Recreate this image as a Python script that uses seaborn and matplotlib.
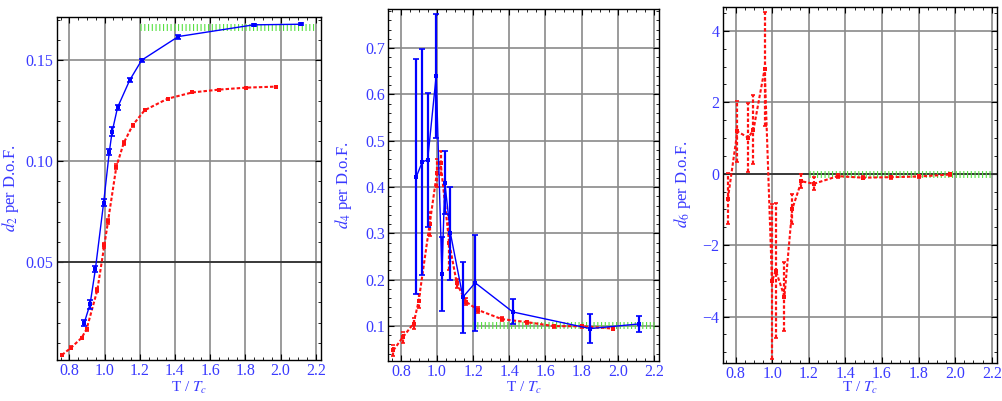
import numpy as np
import matplotlib
matplotlib.use("Agg")
import matplotlib.pyplot as plt
import seaborn as sns

# Data
t_blue = [0.885, 0.918, 0.948, 0.995, 1.027, 1.043, 1.074, 1.143, 1.211, 1.419, 1.847, 2.116]
d2_blue = [0.0200, 0.0292, 0.0465, 0.0795, 0.1045, 0.1145, 0.1266, 0.1401, 0.1500, 0.1617, 0.1675, 0.1678]
d2_blue_err = [0.0015, 0.0022, 0.0015, 0.0015, 0.0015, 0.0023, 0.0012, 0.0010, 0.0008, 0.0010, 0.0006, 0.0006]
d4_blue = [0.422, 0.454, 0.459, 0.640, 0.212, 0.409, 0.300, 0.162, 0.193, 0.130, 0.094, 0.104]
d4_blue_err = [0.254, 0.245, 0.145, 0.135, 0.080, 0.068, 0.100, 0.077, 0.104, 0.027, 0.032, 0.018]

t_red = [0.758, 0.810, 0.870, 0.898, 0.959, 0.999, 1.020, 1.067, 1.109, 1.160, 1.228, 1.358, 1.497, 1.648, 1.804, 1.974]
d2_red = [0.0040, 0.0076, 0.0125, 0.0168, 0.0361, 0.0584, 0.0703, 0.0972, 0.1090, 0.1178,
          0.1252, 0.1309, 0.1340, 0.1354, 0.1364, 0.1369]
d2_red_err = [0.0006, 0.0006, 0.0006, 0.0008, 0.0010, 0.0012, 0.0012, 0.0012, 0.0010, 0.0008,
              0.0006, 0.0005, 0.0004, 0.0004, 0.0004, 0.0004]
d4_red = [0.047, 0.075, 0.105, 0.153, 0.320, 0.430, 0.451, 0.280, 0.192, 0.152,
          0.134, 0.1145, 0.108, 0.0993, 0.099, 0.094]
d4_red_err = [0.012, 0.012, 0.012, 0.015, 0.025, 0.030, 0.026, 0.060, 0.010, 0.008,
              0.006, 0.004, 0.003, 0.003, 0.003, 0.003]
d6_red = [-0.70, 1.185, 1.01, 1.23, 2.94, -3.01, -2.71, -3.44, -1.00, -0.21,
          -0.28, -0.067, -0.11, -0.095, -0.076, -0.02]
d6_red_err = [0.72, 0.86, 0.96, 0.97, 1.59, 2.17, 1.88, 0.97, 0.42, 0.20,
              0.18, 0.06, 0.05, 0.04, 0.04, 0.03]

# green reference level (high-T limit)
green_x = [1.2, 2.2]
green_level = [0.1666, 0.101, 0.0]

x_ticks = [0.8, 1.0, 1.2, 1.4, 1.6, 1.8, 2.0, 2.2]

sns.set_theme(style="ticks")
plt.rcParams["font.family"] = ["Liberation Serif", "DejaVu Serif"]
plt.rcParams["mathtext.fontset"] = "stix"
plt.rcParams["lines.scale_dashes"] = False
plt.rcParams["axes.unicode_minus"] = True

blue = "#0000ff"
red = "#ff1010"
green = "#55e040"
label_blue = "#3a3aff"

fig = plt.figure(figsize=(10.02, 4.01), dpi=100)
ax1 = fig.add_axes([0.0569, 0.1022, 0.2635, 0.855])
ax2 = fig.add_axes([0.3875, 0.0998, 0.2705, 0.878])
ax3 = fig.add_axes([0.7213, 0.0955, 0.2740, 0.888])


def draw_red(ax, y, err):
    eb = ax.errorbar(t_red, y, yerr=err, fmt="none", ecolor=red, elinewidth=1.6,
                     capsize=1.5, capthick=1.2, zorder=4)
    for c in eb[2]:
        c.set_linestyle((0, (2.5, 1.5)))
    sns.lineplot(x=t_red, y=y, ax=ax, color=red, sort=False, linewidth=1.5,
                 linestyle=(0, (2.5, 1.5)), marker="s", markersize=3.5,
                 markeredgewidth=0, zorder=5)


def draw_blue(ax, y, err):
    ax.errorbar(t_blue, y, yerr=err, fmt="none", ecolor=blue, elinewidth=1.6,
                capsize=2, capthick=1.2, zorder=6)
    sns.lineplot(x=t_blue, y=y, ax=ax, color=blue, sort=False, linewidth=1.0,
                 marker="s", markersize=3.5, markeredgewidth=0, zorder=7)


def draw_green(ax, level):
    ax.hlines(level, green_x[0], green_x[1], colors=green, linewidth=5,
              linestyles=[(0, (0.8, 1.9))], zorder=3)


def style(ax, ylim, yticks, ylabels, yminor, label, lx, ly):
    ax.set_xlim(0.73, 2.23)
    ax.set_ylim(*ylim)
    ax.set_xticks(x_ticks)
    ax.set_xticklabels([f"{v:.1f}" for v in x_ticks])
    ax.set_xticks(np.arange(0.75, 2.24, 0.05), minor=True)
    ax.set_yticks(yticks)
    ax.set_yticklabels(ylabels)
    ax.set_yticks(yminor, minor=True)
    ax.grid(True, which="major", color="#8a8a8a", linewidth=1.2)
    ax.set_axisbelow(True)
    ax.tick_params(which="both", direction="in", top=True, right=True,
                   colors="black", labelcolor=label_blue, labelsize=11.5)
    ax.tick_params(which="major", length=4, width=0.8, pad=2.5)
    ax.tick_params(which="minor", length=2.2, width=0.6)
    for s in ax.spines.values():
        s.set_color("black")
        s.set_linewidth(1.0)
    ax.set_xlabel("T / $T_c$", color=label_blue, fontsize=11)
    ax.set_ylabel(label, color=label_blue, fontsize=12)
    ax.xaxis.set_label_coords(0.5, ly)
    ax.yaxis.set_label_coords(lx, 0.5)


# Panel 1: d2
ax1.axhline(0.05, color="#333333", linewidth=1.3, zorder=2)
draw_green(ax1, green_level[0])
draw_red(ax1, d2_red, d2_red_err)
draw_blue(ax1, d2_blue, d2_blue_err)
style(ax1, (0.0015, 0.1713), [0.05, 0.10, 0.15], ["0.05", "0.10", "0.15"],
      np.arange(0.01, 0.171, 0.01), "$d_2$ per D.o.F.", -0.135, -0.058)

# Panel 2: d4
draw_green(ax2, green_level[1])
draw_red(ax2, d4_red, d4_red_err)
draw_blue(ax2, d4_blue, d4_blue_err)
y2 = [0.1, 0.2, 0.3, 0.4, 0.5, 0.6, 0.7]
style(ax2, (0.024, 0.785), y2, [f"{v:.1f}" for v in y2],
      np.arange(0.04, 0.785, 0.02), "$d_4$ per D.o.F.", -0.125, -0.054)

# Panel 3: d6
ax3.axhline(0.0, color="#333333", linewidth=1.3, zorder=2)
draw_green(ax3, green_level[2])
draw_red(ax3, d6_red, d6_red_err)
y3 = [-4, -2, 0, 2, 4]
style(ax3, (-5.29, 4.68), y3, ["\u22124", "\u22122", "0", "2", "4"],
      np.arange(-5.0, 4.68, 0.5), "$d_6$ per D.o.F.", -0.11, -0.049)

plt.savefig("out.png", dpi=100)
plt.close()
